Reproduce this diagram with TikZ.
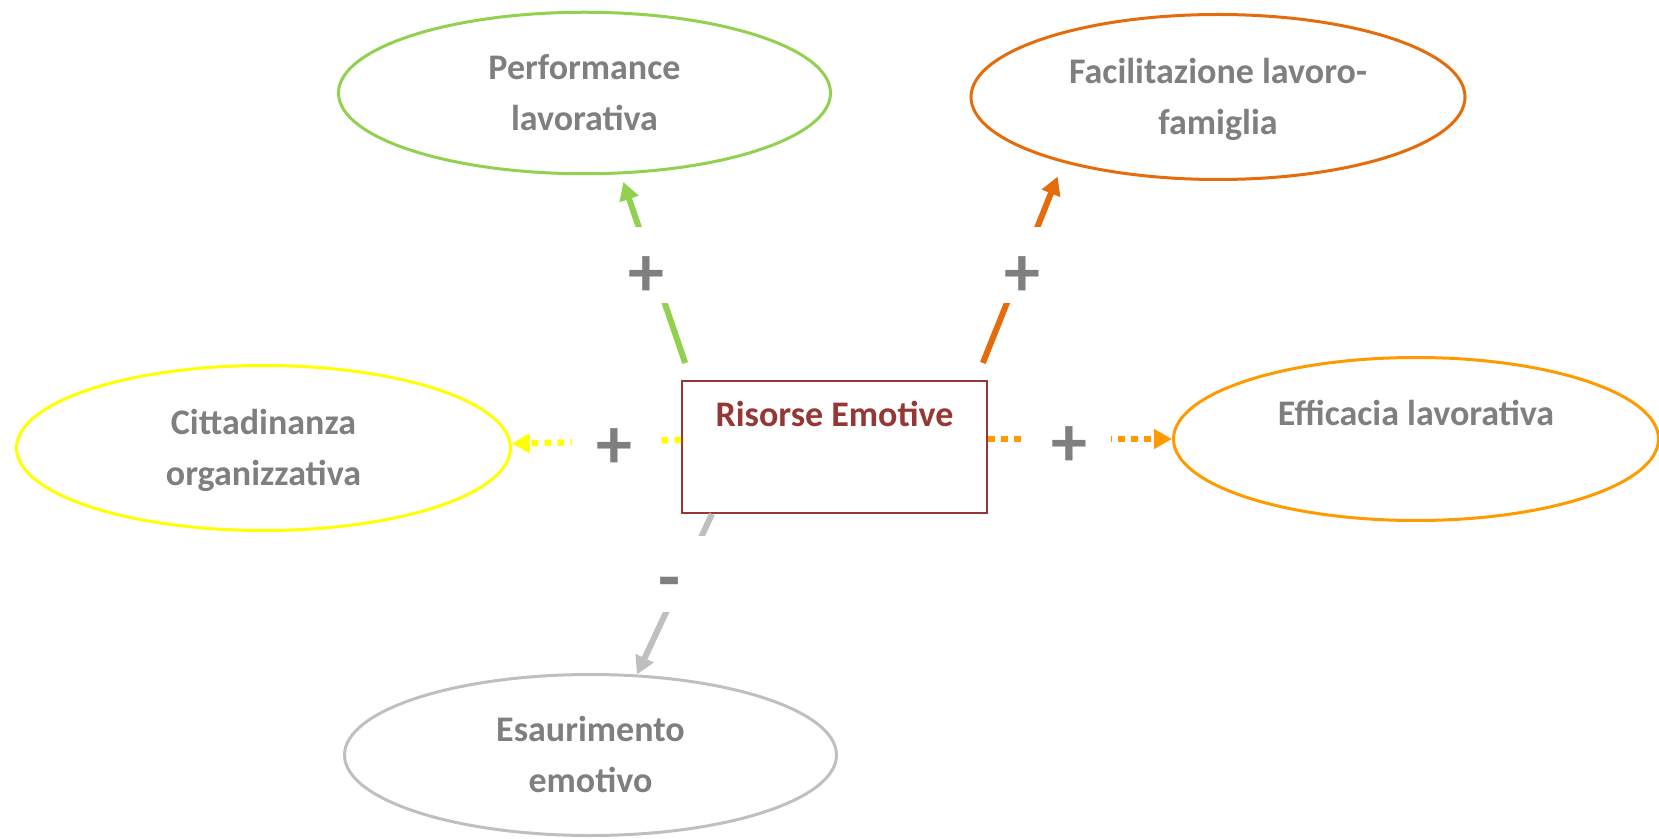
\documentclass[tikz,border=0pt]{standalone}
\usepackage{fontspec}
\setmainfont{Carlito}
\usetikzlibrary{arrows.meta,shapes.geometric}
\definecolor{txtgray}{HTML}{7F7F7F}
\definecolor{redd}{HTML}{953735}
\definecolor{cgreen}{HTML}{92D050}
\definecolor{corange}{HTML}{E46C0A}
\definecolor{cyellow}{HTML}{FFFF00}
\definecolor{clorange}{HTML}{FF9A00}
\definecolor{cgray}{HTML}{BFBFBF}
\newcommand\twoline[2]{\vbox{\kern11.6pt\baselineskip=25.5pt\lineskiplimit=-100pt\lineskip=0pt\halign{\hfil##\hfil\cr\smash{#1}\cr\smash{#2}\cr}}}
\tikzset{
  ell/.style={ellipse, line width=1.5pt, inner sep=0pt, text=txtgray,
    font=\bfseries\fontsize{18}{25.5}\selectfont},
  rbox/.style={draw=redd, line width=1pt, inner sep=0pt, minimum width=152.5pt,
    text height=23pt, text depth=43pt, text=redd,
    font=\bfseries\fontsize{18}{22}\selectfont},
  arr/.style={line width=3pt, -{Triangle[length=9pt,width=9.5pt]}},
  dotarr/.style={arr, line width=3.25pt, dash pattern=on 3.25pt off 3.25pt},
  sign/.style={fill=white, inner sep=0pt, minimum width=42.5pt, minimum height=38pt,
    text height=27.5pt, text depth=0pt,
    text=txtgray, font=\bfseries\fontsize{36}{36}\selectfont},
  vsign/.style={sign, text height=31pt},
  minussign/.style={sign, text height=27.5pt}
}
\begin{document}
\begin{tikzpicture}[x=0.5pt,y=-0.5pt]
\useasboundingbox (0,0) rectangle (1659,839);
\node[rbox] (re) at (834.5,447) {Risorse Emotive};
\node[ell, draw=cgreen, minimum width=246pt, minimum height=80.75pt] (pl) at (584.5,93) {\twoline{Performance}{lavorativa}};
\node[ell, draw=corange, minimum width=247pt, minimum height=82.5pt] (fa) at (1218,97) {\twoline{Facilitazione lavoro-}{famiglia}};
\node[ell, draw=cyellow, minimum width=247pt, minimum height=82.5pt] (ci) at (263.5,448) {\twoline{Cittadinanza}{organizzativa}};
\node[ell, draw=clorange, minimum width=242.5pt, minimum height=81.5pt] (ef) at (1416,439) {\twoline{Efficacia lavorativa}{}};
\node[ell, draw=cgray, minimum width=246pt, minimum height=80.5pt] (es) at (590.5,755) {\twoline{Esaurimento}{emotivo}};
\draw[arr, cgreen, shorten <=9pt, shorten >=4pt] ([xshift=5pt]re.north west) -- node[vsign, pos=0.557, xshift=-2.5pt] {+} (pl.-66);
\draw[arr, corange, shorten <=9.2pt, shorten >=7.5pt] ([xshift=-6pt]re.north east) -- node[vsign, pos=0.528] {+} (fa.203.4);
\draw[dotarr, cyellow] ([yshift=3.5pt]re.west) -- node[sign, pos=0.393] {+} (ci.1.85);
\draw[dotarr, clorange] ([yshift=4pt]re.east) -- node[sign, pos=0.44] {+} (ef.west);
\draw[arr, cgray] ([xshift=15.5pt]re.south west) -- node[minussign, pos=0.376, xshift=-7pt] {-} (es.60);
\end{tikzpicture}
\end{document}
